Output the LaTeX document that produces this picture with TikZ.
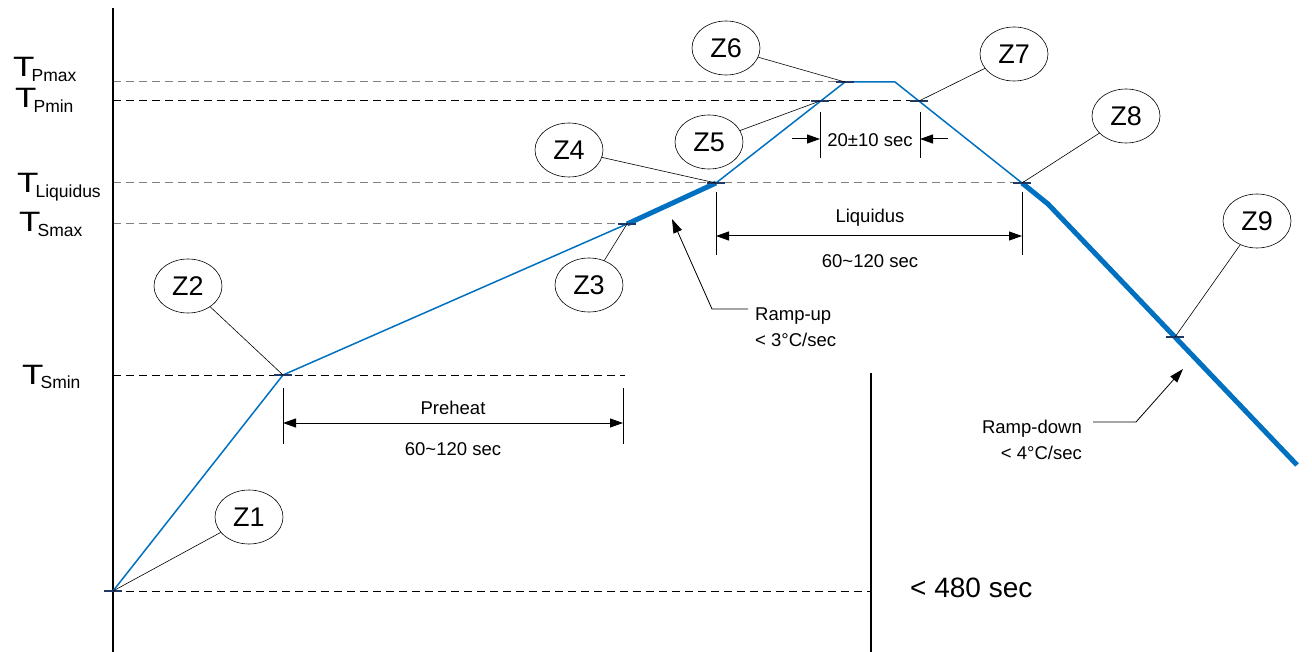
\documentclass[tikz,border=0pt]{standalone}
\usepackage{fontspec}
\setmainfont{Liberation Sans}
\usetikzlibrary{arrows.meta,shapes.geometric}
\definecolor{prof}{RGB}{0,112,192}
\definecolor{navy}{RGB}{31,56,100}
\definecolor{dgray}{RGB}{128,128,128}
\newcommand{\Tlab}[1]{\scalebox{1.25}[1]{\fontsize{28}{28}\selectfont T}\hspace{-3pt}\raisebox{-5pt}{\fontsize{17.5}{17.5}\selectfont #1}}
\begin{document}
\begin{tikzpicture}[x=1pt,y=-1pt,
  zell/.style={ellipse,draw,line width=0.6pt,minimum width=68pt,minimum height=54pt,inner sep=0pt,font=\fontsize{27}{27}\selectfont},
  lead/.style={line width=0.6pt},
  profthin/.style={prof,line width=1.5pt,line join=round},
  profthick/.style={prof,line width=5pt,line join=round},
  gdash/.style={dgray,line width=1pt,dash pattern=on 8pt off 5pt},
  kdash/.style={black,line width=1pt,dash pattern=on 8pt off 5pt},
  zmark/.style={navy,line width=1.8pt},
  ext/.style={line width=1pt},
  dimarr/.style={line width=1pt,{Triangle[length=13pt,width=9pt]}-{Triangle[length=13pt,width=9pt]}},
  onearr/.style={line width=1pt,-{Triangle[length=13pt,width=9pt]}},
  lbl/.style={inner sep=0pt,font=\fontsize{18.5}{26.5}\selectfont},
  axisline/.style={line width=2pt}
]
\useasboundingbox (0,0) rectangle (1312,652);

% profile points
\coordinate (p1) at (113,591);
\coordinate (p2) at (283,375);
\coordinate (p3) at (627,224);
\coordinate (p4) at (716,183);
\coordinate (p5) at (820,101);
\coordinate (p6) at (845,82);
\coordinate (p7) at (895,82);
\coordinate (p8) at (919,101);
\coordinate (p9) at (1022,183);
\coordinate (pk) at (1048,204);
\coordinate (pz) at (1175,337);
\coordinate (pend) at (1297,465);

% dashed reference lines
\draw[gdash] (113,82) -- (p6);
\draw[kdash] (113,101) -- (p8);
\draw[gdash] (113,183) -- (p9);
\draw[gdash] (113,224) -- (p3);
\draw[kdash] (113,375) -- (625,375);
\draw[kdash] (113,591) -- (871,591);

% axes
\coordinate (axtop) at (113,8);
\coordinate (axbot) at (113,652);
\draw[axisline] (axtop) -- (axbot);
\coordinate (lim top) at (871,373);
\coordinate (lim bot) at (871,652);
\draw[axisline] (lim top) -- (lim bot);

% profile
\draw[profthin] (p1) -- (p2) -- (p3);
\draw[profthick] (p3) -- (p4);
\draw[profthin] (p4) -- (p6) -- (p7) -- (p9);
\draw[profthick] (p9) -- (pk) -- (pend);

% tick marks
\foreach \p in {p1,p2,p3,p4,p5,p6,p8,p9,pz}
  \draw[zmark] ([xshift=-9pt]\p) -- ([xshift=9pt]\p);

% Z ellipses
\node[zell] (z1) at (249,517) {Z1};
\node[zell] (z2) at (188,286) {Z2};
\node[zell] (z3) at (589,285) {Z3};
\node[zell] (z4) at (569,150) {Z4};
\node[zell] (z5) at (709,142) {Z5};
\node[zell] (z6) at (726,48) {Z6};
\node[zell] (z7) at (1014,54) {Z7};
\node[zell] (z8) at (1126,116) {Z8};
\node[zell] (z9) at (1257,221) {Z9};

\draw[lead] (z1) -- (p1);
\draw[lead] (z2) -- (p2);
\draw[lead] (z3) -- (p3);
\draw[lead] (z4) -- (p4);
\draw[lead] (z5) -- (p5);
\draw[lead] (z6) -- (p6);
\draw[lead] (z7) -- (p8);
\draw[lead] (z8) -- (p9);
\draw[lead] (z9) -- (pz);

% axis labels
\node[anchor=base west,inner sep=0pt] (tpmax) at (13,77) {\Tlab{Pmax}};
\node[anchor=base west,inner sep=0pt] (tpmin) at (15,108) {\Tlab{Pmin}};
\node[anchor=base west,inner sep=0pt] (tliq) at (17,193) {\Tlab{Liquidus}};
\node[anchor=base west,inner sep=0pt] (tsmax) at (19,232) {\Tlab{Smax}};
\node[anchor=base west,inner sep=0pt] (tsmin) at (22,384) {\Tlab{Smin}};

% Preheat dimension
\coordinate (ph1t) at (283,388); \coordinate (ph1b) at (283,444);
\coordinate (ph2t) at (623,388); \coordinate (ph2b) at (623,444);
\draw[ext] (ph1t) -- (ph1b);
\draw[ext] (ph2t) -- (ph2b);
\coordinate (pha) at (283,423); \coordinate (phb) at (623,423);
\draw[dimarr] (pha) -- (phb);
\node[lbl] (preheat) at (453,408) {Preheat};
\node[lbl] (phtime) at (453,449) {60\textasciitilde120 sec};

% Liquidus dimension
\coordinate (lq1t) at (716,192); \coordinate (lq1b) at (716,255);
\coordinate (lq2t) at (1022,192); \coordinate (lq2b) at (1022,255);
\draw[ext] (lq1t) -- (lq1b);
\draw[ext] (lq2t) -- (lq2b);
\coordinate (lqa) at (716,236); \coordinate (lqb) at (1022,236);
\draw[dimarr] (lqa) -- (lqb);
\node[lbl] (liq) at (870,218) {Liquidus};
\node[lbl] (lqtime) at (870,261) {60\textasciitilde120 sec};

% 20+-10 dimension
\coordinate (pk1t) at (820,112); \coordinate (pk1b) at (820,158);
\coordinate (pk2t) at (920,112); \coordinate (pk2b) at (920,158);
\draw[ext] (pk1t) -- (pk1b);
\draw[ext] (pk2t) -- (pk2b);
\coordinate (pka0) at (792,139); \coordinate (pka) at (820,139);
\coordinate (pkb0) at (948,139); \coordinate (pkb) at (920,139);
\draw[onearr] (pka0) -- (pka);
\draw[onearr] (pkb0) -- (pkb);
\node[lbl] (peak) at (870,140) {20±10 sec};

% Ramp-up callout
\node[lbl,anchor=west,align=left] (rup) at (755,327) {Ramp-up\\< 3°C/sec};
\coordinate (rupend) at (748,309);
\coordinate (rupbend) at (712,309);
\coordinate (ruptip) at (672,219);
\draw[line width=0.8pt,-{Triangle[length=14pt,width=9pt]}] (rupend) -- (rupbend) -- (ruptip);

% Ramp-down callout
\node[lbl,anchor=east,align=right] (rdn) at (1082,440) {Ramp-down\\< 4°C/sec};
\coordinate (rdnend) at (1093,422);
\coordinate (rdnbend) at (1136,422);
\coordinate (rdntip) at (1183,369);
\draw[line width=0.8pt,-{Triangle[length=14pt,width=9pt]}] (rdnend) -- (rdnbend) -- (rdntip);

% total time
\node[inner sep=0pt,anchor=west,font=\fontsize{28}{28}\selectfont] (total) at (910,588) {< 480 sec};
\end{tikzpicture}
\end{document}
